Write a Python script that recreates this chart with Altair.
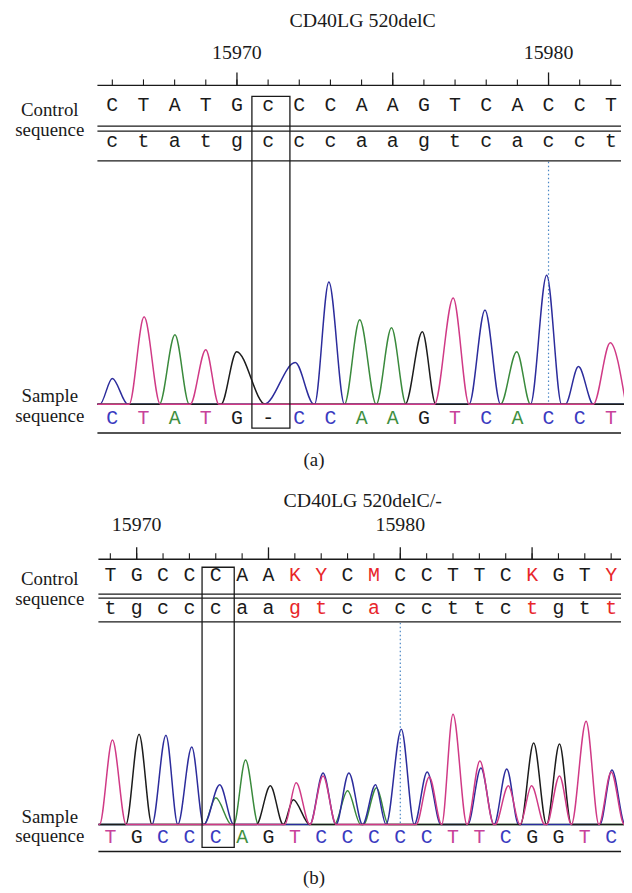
import altair as alt
import pandas as pd

# ------------------------------------------------------------------ data (a)
A_TITLE = "CD40LG 520delC"
A_CAPTION = "(a)"
A_POS = list(range(15966, 15983))
A_REF_UPPER = list("CTATGcCCAAGTCACCT")
A_REF_LOWER = list("ctatgcccaagtcacct")
A_SAMPLE = list("CTATG-CCAAGTCACCT")
A_TICK_LABELS = [15970, 15980]
A_MAJOR_TICKS = [15970, 15975, 15980]
A_BOX = [15971]
A_CURSOR = [15980]
A_PEAK_POS = [15966.00, 15967.02, 15968.01, 15969.00, 15969.99, 15971.87, 15972.95, 15973.94,
              15974.96, 15975.95, 15976.94, 15977.96, 15978.98, 15979.94, 15980.96, 15981.98]
A_PEAK_H = [26, 88, 70, 55, 53, 42, 123, 85, 77, 73, 107, 95, 53, 130, 38, 62]
A_PEAK_BASE = list("CTATGCCAAGTCACCT")
A_PEAK_LW = [0.40, 0.48, 0.50, 0.50, 0.50, 1.00, 0.46, 0.49, 0.49, 0.55, 0.60, 0.51, 0.52, 0.52, 0.42, 0.54]
A_PEAK_RW = [0.50, 0.52, 0.46, 0.42, 0.92, 0.60, 0.50, 0.53, 0.47, 0.43, 0.51, 0.50, 0.44, 0.48, 0.48, 0.50]

# ------------------------------------------------------------------ data (b)
B_TITLE = "CD40LG 520delC/-"
B_CAPTION = "(b)"
B_POS = list(range(15969, 15989))
B_REF_UPPER = list("TGCCCAAKYCMCCTTCKGTY")
B_REF_LOWER = list("tgcccaagtcaccttctgtt")
B_SAMPLE = list("TGCCCAGTCCCCCTTCGGTC")
B_TICK_LABELS = [15970, 15980]
B_MAJOR_TICKS = [15970, 15975, 15980, 15985]
B_BOX = [15973]
B_CURSOR = [15980]
B_PEAK_POS = [15969.08, 15970.09, 15971.11, 15972.09, 15973.15, 15973.00, 15974.13, 15975.07,
              15976.05, 15975.94, 15977.07, 15977.07, 15978.05, 15978.00, 15979.06, 15979.10,
              15980.04, 15981.02, 15981.10, 15982.00, 15983.02, 15983.06, 15984.04, 15984.10,
              15985.06, 15984.98, 15986.04, 15986.04, 15987.05, 15988.03, 15988.00]
B_PEAK_H = [85, 91, 90, 78, 40, 27, 65, 39, 42, 25, 52, 49, 52, 34, 40, 37,
            96, 53, 48, 111, 64, 57, 56, 39, 82, 39, 81, 49, 104, 55, 53]
B_PEAK_BASE = list("TGCCCAAGTGCTCACACCTTTCCTGTGTTCT")
B_PEAK_LW = [0.49, 0.50, 0.53, 0.53, 0.60, 0.45, 0.45, 0.53, 0.43, 0.38, 0.50, 0.50, 0.50, 0.50, 0.50, 0.50,
             0.58, 0.49, 0.50, 0.46, 0.49, 0.50, 0.49, 0.50, 0.50, 0.45, 0.49, 0.49, 0.56, 0.46, 0.50]
B_PEAK_RW = [0.52, 0.49, 0.45, 0.45, 0.53, 0.60, 0.49, 0.49, 0.52, 0.63, 0.50, 0.50, 0.53, 0.50, 0.40, 0.45,
             0.49, 0.52, 0.50, 0.53, 0.53, 0.50, 0.45, 0.45, 0.49, 0.50, 0.45, 0.45, 0.52, 0.50, 0.50]

# ------------------------------------------------------------------ style
SERIF = "Liberation Serif"
MONO = "Liberation Mono"
INK = "#1a1a1a"
TRACE_COLOR = {"A": "#3a8a3c", "C": "#2c2c9c", "G": "#1c1c1c", "T": "#d03a86"}
LETTER_COLOR = {"A": "#3f8f3f", "C": "#3a3abf", "G": "#1c1c1c", "T": "#c8429a", "-": INK}
AMBIGUOUS = set("RYKMSWBDHVN")
AMBIG_COLOR = "#e8262a"
TRACE_ORDER = ["A", "C", "G", "T"]
W = 620
ONE = pd.DataFrame({"k": [0]})


def trace_table(pos, h, base, lw, rw, start, end):
    rows = []
    for ch in TRACE_ORDER:
        pk = sorted((p, hh, l, r) for p, hh, b, l, r in zip(pos, h, base, lw, rw) if b == ch)
        pts = [(start, 0.0)]
        for p, hh, l, r in pk:
            left = p - l
            if len(pts) > 1 and left <= pts[-1][0]:
                prev = pts.pop()
                left = (prev[0] + left) / 2
            pts.append((left, 0.0))
            pts.append((p, float(hh)))
            pts.append((p + r, 0.0))
        if pts[-1][0] < end:
            pts.append((end, 0.0))
        for i, (x, y) in enumerate(pts):
            rows.append({"ch": ch, "i": i, "x": x, "y": y})
    return pd.DataFrame(rows)


def panel(L, d):
    xs = alt.Scale(domain=L["domain"])
    ys = alt.Scale(domain=[L["base"] - L["height"], L["base"]])

    def X(f):
        return alt.X(f, type="quantitative", scale=xs, axis=None)

    layers = []

    def hline(y, w=1.3):
        layers.append(alt.Chart(ONE).mark_rule(color=INK, strokeWidth=w).encode(
            x=alt.value(L["line_x"][0]), x2=alt.value(L["line_x"][1]), y=alt.value(y)))

    def text(txt, x, y, size, font=SERIF):
        layers.append(alt.Chart(ONE).mark_text(text=txt, font=font, fontSize=size, color=INK,
                                               align="center", baseline="middle").encode(
            x=alt.value(x), y=alt.value(y)))

    # traces
    tr = trace_table(d["peak_pos"], d["peak_h"], d["peak_base"], d["lw"], d["rw"],
                     L["trace_x"][0], L["trace_x"][1])
    for ch in TRACE_ORDER:
        layers.append(alt.Chart(tr[tr.ch == ch]).mark_line(
            interpolate="monotone", strokeWidth=1.5, clip=True, color=TRACE_COLOR[ch]).encode(
            x=X("x"), y=alt.Y("y:Q", scale=ys, axis=None), order="i:Q"))

    # cursor
    layers.append(alt.Chart(pd.DataFrame({"pos": d["cursor"]})).mark_rule(
        color="#4a86c5", strokeWidth=1.2, strokeDash=[1.5, 2.5]).encode(
        x=X("pos"), y=alt.value(L["cursor_top"]), y2=alt.value(L["base"])))

    # titles & labels
    text(d["title"], L["title_x"], L["title_y"], 20)
    text("Control", L["lab_x"], L["ctrl_y"][0], 19)
    text("sequence", L["lab_x"], L["ctrl_y"][1], 19)
    text("Sample", L["lab_x"], L["samp_y"][0], 19)
    text("sequence", L["lab_x"], L["samp_y"][1], 19)
    text(d["caption"], L["cap_x"], L["cap_y"], 19)

    # axis
    hline(L["axis_y"], 1.5)
    ticks = pd.DataFrame({"pos": d["pos"]})
    layers.append(alt.Chart(ticks).mark_rule(color=INK, strokeWidth=1.1).encode(
        x=X("pos"), y=alt.value(L["minor_top"]), y2=alt.value(L["axis_y"])))
    layers.append(alt.Chart(pd.DataFrame({"pos": d["major"]})).mark_rule(color=INK, strokeWidth=1.3).encode(
        x=X("pos"), y=alt.value(L["major_top"]), y2=alt.value(L["axis_y"])))
    labs = pd.DataFrame({"pos": d["labels"], "t": [str(v) for v in d["labels"]]})
    layers.append(alt.Chart(labs).mark_text(font=SERIF, fontSize=20, color=INK, baseline="middle").encode(
        x=X("pos"), y=alt.value(L["label_y"]), text="t:N"))

    # reference rows
    up = d["upper"]
    amb = [u in AMBIGUOUS for u in up]
    r1 = pd.DataFrame({"pos": d["pos"], "t": up, "c": [AMBIG_COLOR if a else INK for a in amb]})
    r2 = pd.DataFrame({"pos": d["pos"], "t": d["lower"], "c": [AMBIG_COLOR if a else INK for a in amb]})
    rs = pd.DataFrame({"pos": d["pos"], "t": d["sample"],
                       "c": [LETTER_COLOR.get(s, INK) for s in d["sample"]]})
    for df, y in [(r1, L["row1_y"]), (r2, L["row2_y"]), (rs, L["samp_row_y"])]:
        layers.append(alt.Chart(df).mark_text(font=MONO, fontSize=20, baseline="middle").encode(
            x=X("pos"), y=alt.value(y), text="t:N", color=alt.Color("c:N", scale=None)))
    hline(L["dbl"][0], 1.3)
    hline(L["dbl"][1], 1.3)
    hline(L["rowline"], 1.3)
    hline(L["bottom"], 1.5)

    # highlight box
    bx = pd.DataFrame({"x1": [b - 0.52 for b in d["box"]], "x2": [b + 0.70 for b in d["box"]]})
    layers.append(alt.Chart(bx).mark_rect(filled=False, color=INK, strokeWidth=1.3).encode(
        x=X("x1"), x2="x2", y=alt.value(L["box_y"][0]), y2=alt.value(L["box_y"][1])))

    return alt.layer(*layers).properties(width=W, height=L["height"])


LAYOUT_A = dict(height=472, base=396, domain=[15962.652, 15982.422], line_x=(90, 617),
                trace_x=(15965.52, 15982.45), cursor_top=152, title_x=357, title_y=10,
                lab_x=42, ctrl_y=(99.5, 119.5), samp_y=(388, 408), cap_x=308, cap_y=452,
                axis_y=75, minor_top=69, major_top=62, label_y=42, row1_y=95, row2_y=131,
                samp_row_y=410, dbl=(116, 121), rowline=151, bottom=425, box_y=(86, 420))
LAYOUT_B = dict(height=413, base=347, domain=[15965.118, 15988.487], line_x=(91, 617),
                trace_x=(15968.55, 15988.55), cursor_top=144, title_x=357, title_y=21,
                lab_x=42, ctrl_y=(100, 120), samp_y=(339, 359), cap_x=308, cap_y=401,
                axis_y=80, minor_top=74, major_top=68, label_y=46, row1_y=96, row2_y=129,
                samp_row_y=360, dbl=(115, 119), rowline=143, bottom=374, box_y=(88, 370))

DATA_A = dict(title=A_TITLE, caption=A_CAPTION, pos=A_POS, upper=A_REF_UPPER, lower=A_REF_LOWER,
              sample=A_SAMPLE, labels=A_TICK_LABELS, major=A_MAJOR_TICKS, box=A_BOX, cursor=A_CURSOR,
              peak_pos=A_PEAK_POS, peak_h=A_PEAK_H, peak_base=A_PEAK_BASE, lw=A_PEAK_LW, rw=A_PEAK_RW)
DATA_B = dict(title=B_TITLE, caption=B_CAPTION, pos=B_POS, upper=B_REF_UPPER, lower=B_REF_LOWER,
              sample=B_SAMPLE, labels=B_TICK_LABELS, major=B_MAJOR_TICKS, box=B_BOX, cursor=B_CURSOR,
              peak_pos=B_PEAK_POS, peak_h=B_PEAK_H, peak_base=B_PEAK_BASE, lw=B_PEAK_LW, rw=B_PEAK_RW)

chart = alt.vconcat(panel(LAYOUT_A, DATA_A), panel(LAYOUT_B, DATA_B), spacing=0).properties(
    padding=0
).configure(background="white").configure_view(stroke=None)

chart.save("out.html", embed_options={"renderer": "svg", "actions": False})
